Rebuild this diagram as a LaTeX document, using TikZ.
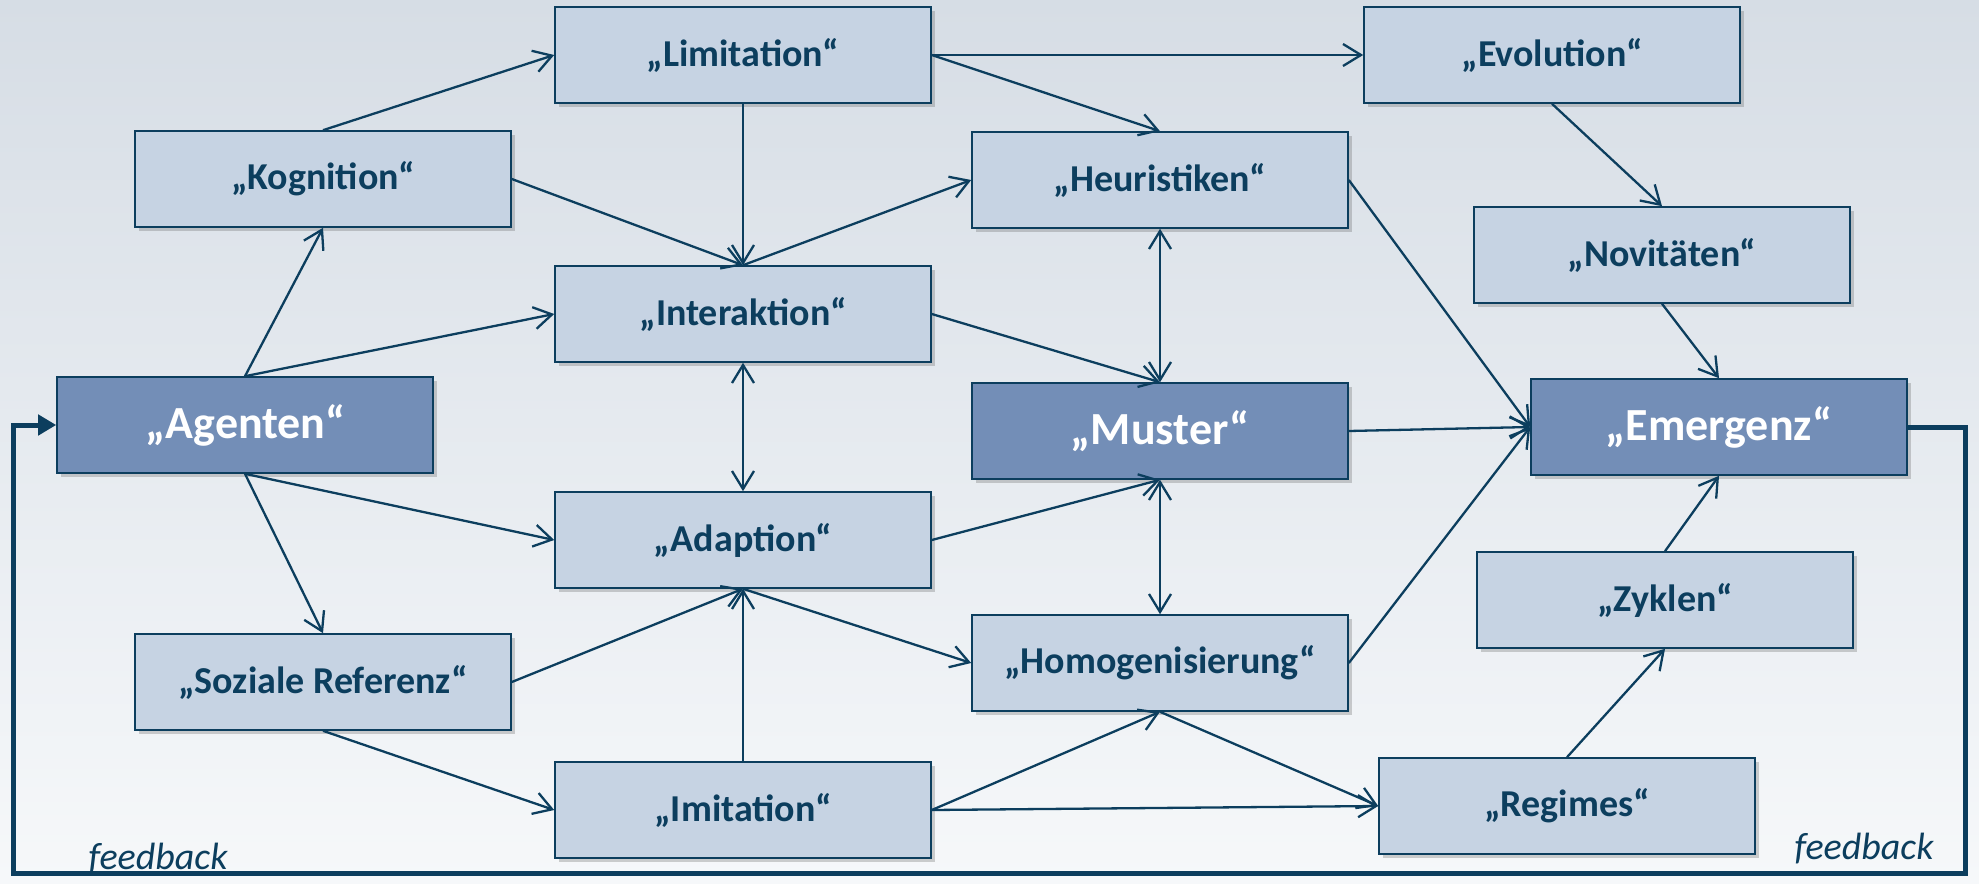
\documentclass[tikz,border=0pt]{standalone}
\usepackage{fontspec}
\setmainfont{Carlito}
\usetikzlibrary{arrows.meta,shadows}
\definecolor{navy}{HTML}{0C3E5E}
\definecolor{lightbox}{HTML}{C6D3E3}
\definecolor{darkbox}{HTML}{738EB7}
\definecolor{bgtop}{HTML}{D6DDE5}
\definecolor{bgbot}{HTML}{F6F8FA}
\begin{document}
\begin{tikzpicture}[x=0.5pt,y=-0.5pt,
  box/.style={draw=navy, line width=0.8pt, fill=lightbox, minimum width=188pt, minimum height=48pt, inner sep=0pt,
    font=\fontsize{19}{21}\selectfont\bfseries, text=navy,
    drop shadow={shadow xshift=2pt, shadow yshift=-2pt, opacity=0.3, fill=black!60}},
  dbox/.style={box, fill=darkbox, text=white, font=\fontsize{23}{25}\selectfont\bfseries},
  conn/.style={draw=navy, line width=1.15pt, -{Straight Barb[length=9pt,width=11pt]}},
  dconn/.style={draw=navy, line width=1.15pt, {Straight Barb[length=9pt,width=11pt]}-{Straight Barb[length=9pt,width=11pt]}},
  fb/.style={draw=navy, line width=2.5pt, -{Triangle[length=9pt,width=10pt]}},
  fbtext/.style={font=\fontsize{19}{21}\selectfont\itshape, text=navy, inner sep=0pt}
]
\useasboundingbox (0,0) rectangle (1979,883);
\fill[top color=bgtop, bottom color=bgbot] (0,0) rectangle (1979,883);

\node[box]  (lim) at (743,55)   {„Limitation“};
\node[box]  (evo) at (1552,55)  {„Evolution“};
\node[box]  (kog) at (323,179)  {„Kognition“};
\node[box]  (heu) at (1160,180) {„Heuristiken“};
\node[box]  (nov) at (1662,255) {„Novitäten“};
\node[box]  (int) at (743,314)  {„Interaktion“};
\node[dbox] (age) at (245,425)  {„Agenten“};
\node[dbox] (mus) at (1160,431) {„Muster“};
\node[dbox] (eme) at (1719,427) {„Emergenz“};
\node[box]  (ada) at (743,540)  {„Adaption“};
\node[box]  (zyk) at (1665,600) {„Zyklen“};
\node[box]  (soz) at (323,682)  {„Soziale Referenz“};
\node[box]  (hom) at (1160,663) {„Homogenisierung“};
\node[box]  (imi) at (743,810)  {„Imitation“};
\node[box]  (reg) at (1567,806) {„Regimes“};

\draw[conn] (kog.north) -- (lim.west);
\draw[conn] (lim.east) -- (evo.west);
\draw[conn] (lim.east) -- (heu.north);
\draw[conn] (lim.south) -- (int.north);
\draw[conn] (kog.east) -- (int.north);
\draw[conn] (int.north) -- (heu.west);
\draw[conn] (age.north) -- (kog.south);
\draw[conn] (age.north) -- (int.west);
\draw[conn] (int.east) -- (mus.north);
\draw[dconn] (heu.south) -- (mus.north);
\draw[dconn] (int.south) -- (ada.north);
\draw[conn] (heu.east) -- (eme.west);
\draw[conn] (evo.south) -- (nov.north);
\draw[conn] (nov.south) -- (eme.north);
\draw[conn] (mus.east) -- (eme.west);
\draw[conn] (age.south) -- (ada.west);
\draw[conn] (age.south) -- (soz.north);
\draw[conn] (ada.east) -- (mus.south);
\draw[dconn] (mus.south) -- (hom.north);
\draw[conn] (hom.east) -- (eme.west);
\draw[conn] (soz.east) -- (ada.south);
\draw[conn] (imi.north) -- (ada.south);
\draw[conn] (ada.south) -- (hom.west);
\draw[conn] (soz.south) -- (imi.west);
\draw[conn] (imi.east) -- (hom.south);
\draw[conn] (imi.east) -- (reg.west);
\draw[conn] (hom.south) -- (reg.west);
\draw[conn] (reg.north) -- (zyk.south);
\draw[conn] (zyk.north) -- (eme.south);

\coordinate (fr) at (1965,873);
\coordinate (fl) at (13,873);
\draw[fb] (eme.east) -| (fr) -- (fl) |- (age.west);

\node[fbtext] (fb1) at (158,859) {feedback};
\node[fbtext] (fb2) at (1864,849) {feedback};
\end{tikzpicture}
\end{document}
